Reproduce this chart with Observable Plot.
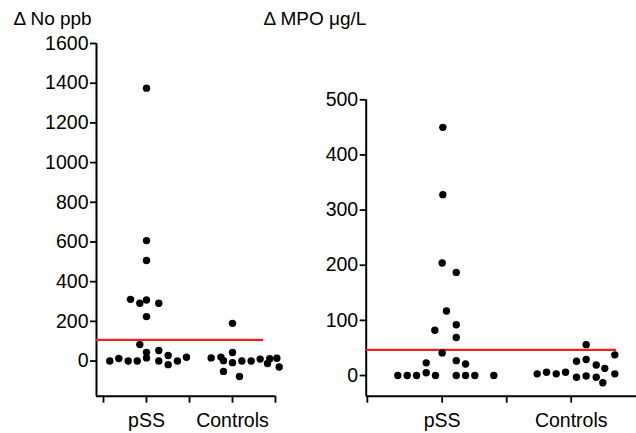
<!DOCTYPE html>
<html>
<head>
<meta charset="utf-8">
<script src="https://cdn.jsdelivr.net/npm/d3@7"></script>
<script src="https://cdn.jsdelivr.net/npm/@observablehq/plot@0.6"></script>
<style>
  body { margin: 0; background: white; }
  #wrap { position: relative; width: 636px; height: 433px; overflow: hidden; background: white; }
  #wrap svg { position: absolute; top: 0; }
</style>
</head>
<body>
<div id="wrap"></div>
<script>
// ---- Data ----
const groupLabels = ["pSS", "Controls"];
const noTitle = "Δ No ppb";
const mpoTitle = "Δ MPO μg/L";
const noTicks = [0, 200, 400, 600, 800, 1000, 1200, 1400, 1600];
const mpoTicks = [0, 100, 200, 300, 400, 500];

// Δ NO (ppb)
const noPss = [1375, 607, 507, 311, 291, 308, 291, 224, 83, 44, 53, 16, 28, 0, 13, 0, 0, 0, -18, 0, 19];
const noPssSpread = [0, 0, 0, -0.186, -0.078, 0, 0.143, 0, -0.078, 0, 0.143, 0, 0.252, -0.427, -0.322, -0.213, -0.108, 0.143, 0.252, 0.36, 0.465];
const noCtrl = [190, 43, 16, 20, 2, -8, 0, 0, 10, -12, 12, 14, -30, -52, -78];
const noCtrlSpread = [0, 0, -0.248, -0.135, -0.105, 0, 0.109, 0.217, 0.322, 0.407, 0.433, 0.516, 0.543, -0.105, 0.081];
const noCutoff = 107;

// Δ MPO (µg/L)
const mpoPss = [450, 328, 204, 187, 117, 82, 92, 69, 41, 23, 27, 21, 5, 0, 0, 0, 0, 0, 0, 0, 0];
const mpoPssSpread = [0.005, 0.005, 0, 0.109, 0.033, -0.057, 0.109, 0.109, 0, -0.124, 0.109, 0.181, -0.124, -0.344, -0.271, -0.199, -0.052, 0.109, 0.181, 0.253, 0.4];
const mpoCtrl = [56, 37.5, 26, 29, 19, 13, 3, 6, 3, 6, -3, -1, -3, -13, 3];
const mpoCtrlSpread = [0.116, 0.338, 0.041, 0.116, 0.194, 0.26, -0.264, -0.191, -0.116, -0.044, 0.041, 0.116, 0.194, 0.245, 0.338];
const mpoCutoff = 46.6;

// ---- Build tables ----
function points(vals, spread, g) {
  return vals.map((v, i) => ({ x: g + spread[i], y: v }));
}
const noData = [...points(noPss, noPssSpread, 1), ...points(noCtrl, noCtrlSpread, 2)];
const mpoData = [...points(mpoPss, mpoPssSpread, 1), ...points(mpoCtrl, mpoCtrlSpread, 2)];

const font = "'Liberation Sans', Arial, Helvetica, sans-serif";
const xFmt = d => d === 1 ? groupLabels[0] : d === 2 ? groupLabels[1] : "";

function panel({data, xDomain, xTicks, yDomain, yTicks, cutoff, cutoffEnd, title, titleDx, titleDy, width, marginLeft, marginRight, marginTop, marginBottom}) {
  return Plot.plot({
    width, height: 433,
    marginLeft, marginRight, marginTop, marginBottom,
    style: { fontFamily: font, fontSize: "19px", color: "black", background: "transparent", overflow: "visible" },
    x: { domain: xDomain },
    y: { domain: yDomain },
    marks: [
      Plot.axisY({ ticks: yTicks, tickFormat: d => String(d), tickSize: 6, tickPadding: 2, fontSize: 19.5, strokeWidth: 1.8, label: null }),
      Plot.axisX({ ticks: xTicks, tickFormat: xFmt, tickSize: 7, tickPadding: 10, fontSize: 19.5, strokeWidth: 1.8, label: null }),
      Plot.ruleX([xDomain[0]], { stroke: "black", strokeWidth: 2 }),
      Plot.ruleY([yDomain[0]], { stroke: "black", strokeWidth: 2 }),
      Plot.ruleY([cutoff], { x1: xDomain[0], x2: cutoffEnd, stroke: "#f02020", strokeWidth: 2.2 }),
      Plot.dot(data, { x: "x", y: "y", r: 3.7, fill: "black", stroke: "none" }),
      Plot.text([title], { frameAnchor: "top-left", textAnchor: "start", lineAnchor: "middle", dx: titleDx, dy: titleDy, fontSize: 19, fill: "black" })
    ]
  });
}

const left = panel({
  data: noData, xDomain: [0.4186, 2.5], xTicks: [0.5, 1, 1.5, 2, 2.5], yDomain: [-177, 1600], yTicks: noTicks,
  cutoff: noCutoff, cutoffEnd: 2.36, title: noTitle, titleDx: -83, titleDy: -25,
  width: 300, marginLeft: 96, marginRight: 25, marginTop: 43, marginBottom: 37.3
});
left.style.left = "0px";

const right = panel({
  data: mpoData, xDomain: [0.411, 2.506], xTicks: [0.42, 1, 1.5, 2], yDomain: [-37.5, 500], yTicks: mpoTicks,
  cutoff: mpoCutoff, cutoffEnd: 2.351, title: mpoTitle, titleDx: -102.7, titleDy: -81.1,
  width: 386, marginLeft: 115.7, marginRight: 0, marginTop: 99.3, marginBottom: 37.3
});
right.style.left = "250px";

const wrap = document.getElementById("wrap");
wrap.appendChild(left);
wrap.appendChild(right);
</script>
</body>
</html>
